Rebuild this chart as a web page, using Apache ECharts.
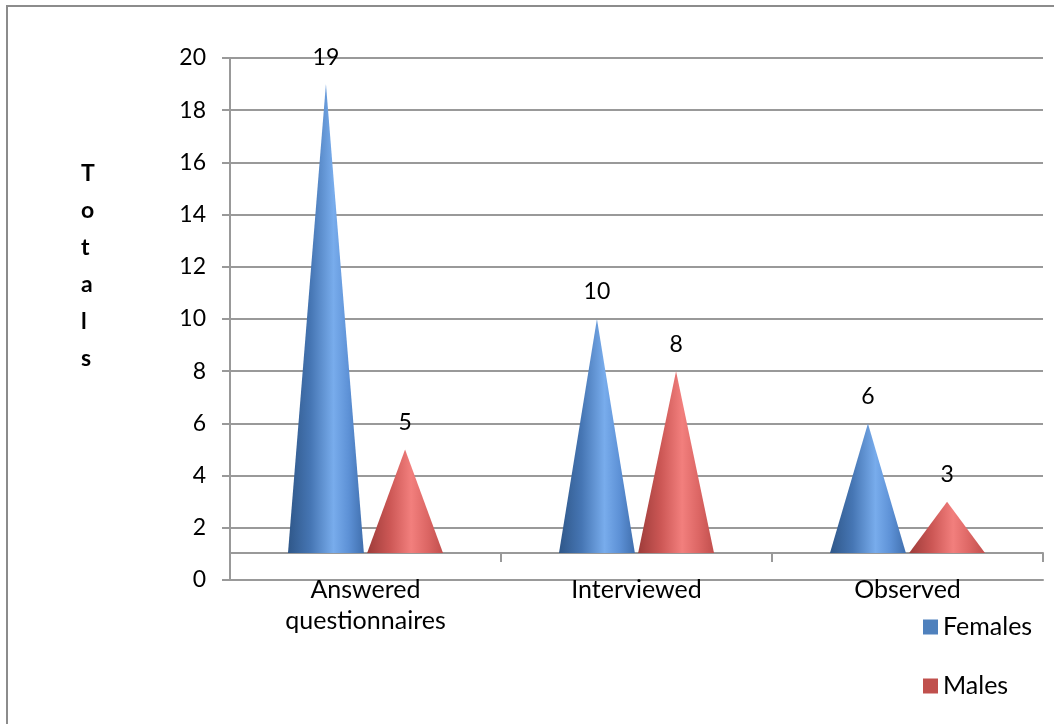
<!DOCTYPE html>
<html>
<head>
<meta charset="utf-8">
<script src="https://cdn.jsdelivr.net/npm/echarts@6/dist/echarts.min.js"></script>
<style>
  html, body { margin: 0; padding: 0; background: #ffffff; }
  #chart { width: 1054px; height: 724px; }
</style>
</head>
<body>
<div id="chart"></div>
<script>
// Survey participation by method, split by gender
const categories = ['Answered\nquestionnaires', 'Interviewed', 'Observed'];
const females = [19, 10, 6];
const males = [5, 8, 3];
const seriesNames = ['Females', 'Males'];
const yTicks = { min: 0, max: 20, interval: 2 };

// Depth of the 3D-style floor, in axis units
const FLOOR = 1.03;

const FONT = 'Lato, "Open Sans", sans-serif';

function coneGradient(stops) {
  return new echarts.graphic.LinearGradient(0, 0, 1, 0, stops);
}
const blueFill = coneGradient([
  { offset: 0, color: '#2f5789' },
  { offset: 0.3, color: '#4676b4' },
  { offset: 0.6, color: '#78acec' },
  { offset: 0.8, color: '#5d91d6' },
  { offset: 1, color: '#406fae' }
]);
const redFill = coneGradient([
  { offset: 0, color: '#9e3c3a' },
  { offset: 0.3, color: '#cc5755' },
  { offset: 0.58, color: '#f27f7d' },
  { offset: 0.8, color: '#dc6664' },
  { offset: 1, color: '#c14f4d' }
]);

// Draws one cone per category: triangle from the floor up to the value
function coneRenderer(side, fill) {
  return function (params, api) {
    const idx = api.value(0);
    const val = api.value(1);
    const band = api.size([1, 0])[0];
    const tip = api.coord([idx, val]);
    const base = api.coord([idx, FLOOR]);
    const cx = tip[0] + side * band * 0.146;
    const half = band * 0.14;
    return {
      type: 'group',
      children: [
        {
          type: 'polygon',
          shape: { points: [[cx, tip[1]], [cx + half, base[1]], [cx - half, base[1]]] },
          style: { fill: fill }
        },
        {
          type: 'text',
          style: {
            text: String(val),
            x: cx,
            y: tip[1] - 27,
            align: 'center',
            verticalAlign: 'middle',
            fill: '#000',
            font: '23px ' + FONT
          }
        }
      ]
    };
  };
}

const chart = echarts.init(document.getElementById('chart'), null, { renderer: 'canvas' });

const gray = '#999999';

chart.setOption({
  backgroundColor: '#ffffff',
  animation: false,
  textStyle: { fontFamily: FONT },
  title: {
    text: 'T\no\nt\na\nl\ns',
    left: 76,
    top: 150,
    textStyle: { fontFamily: FONT, fontSize: 23, fontWeight: 'bold', lineHeight: 37, color: '#000', align: 'center' }
  },
  grid: { left: 230, right: 11, top: 58, bottom: 144 },
  legend: {
    orient: 'vertical',
    left: 923,
    top: 613,
    padding: 0,
    itemGap: 31,
    itemWidth: 15,
    itemHeight: 15,
    icon: 'rect',
    data: seriesNames,
    textStyle: { fontFamily: FONT, fontSize: 25, lineHeight: 28, color: '#000' }
  },
  xAxis: [
    {
      type: 'category',
      data: categories,
      position: 'bottom',
      axisLine: { lineStyle: { color: gray, width: 2 } },
      axisTick: { show: false },
      axisLabel: { color: '#000', fontSize: 25, lineHeight: 31, margin: -6, fontFamily: FONT }
    },
    {
      type: 'category',
      data: categories,
      position: 'bottom',
      offset: -27,
      axisLine: { lineStyle: { color: gray, width: 2 } },
      axisTick: { show: true, length: 9, lineStyle: { color: gray, width: 2 } },
      axisLabel: { show: false }
    }
  ],
  yAxis: {
    type: 'value',
    min: yTicks.min,
    max: yTicks.max,
    interval: yTicks.interval,
    axisLine: { show: true, lineStyle: { color: gray, width: 2 } },
    axisTick: { show: true, length: 8, lineStyle: { color: gray, width: 2 } },
    axisLabel: { color: '#000', fontSize: 23, margin: 24, fontFamily: FONT },
    splitLine: { lineStyle: { color: gray, width: 2 } }
  },
  graphic: [
    {
      type: 'polyline',
      shape: { points: [[7, 724], [7, 6], [1054, 6]] },
      style: { stroke: '#8c8c8c', lineWidth: 2, fill: null },
      silent: true
    }
  ],
  series: [
    {
      name: seriesNames[0],
      type: 'custom',
      xAxisIndex: 0,
      itemStyle: { color: '#4f81bd' },
      renderItem: coneRenderer(-1, blueFill),
      data: females.map((v, i) => [i, v]),
      z: 3
    },
    {
      name: seriesNames[1],
      type: 'custom',
      xAxisIndex: 0,
      itemStyle: { color: '#c0504d' },
      renderItem: coneRenderer(1, redFill),
      data: males.map((v, i) => [i, v]),
      z: 3
    }
  ]
});
</script>
</body>
</html>
